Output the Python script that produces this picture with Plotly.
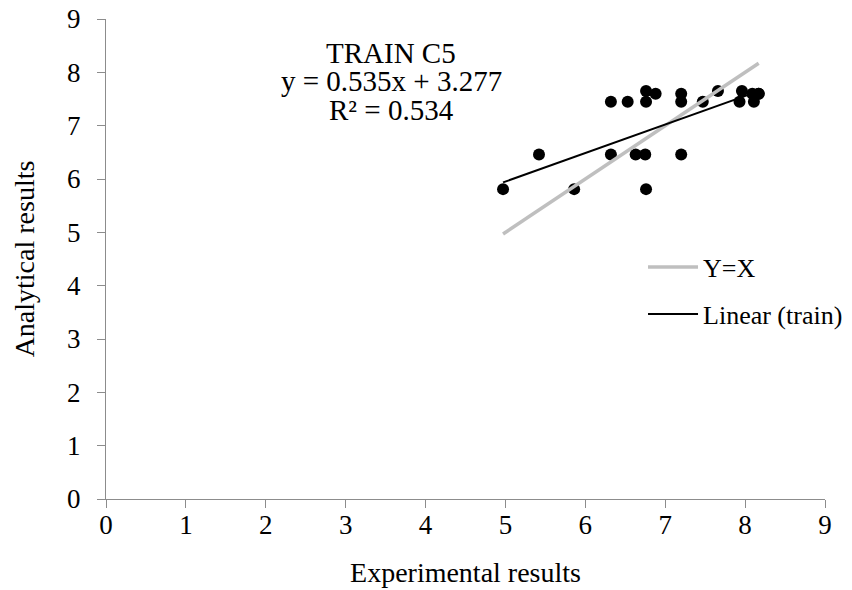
import plotly.graph_objects as go

# Data
exp_x = [4.97, 5.42, 5.86, 6.32, 6.32, 6.53, 6.63, 6.75, 6.76, 6.76, 6.76, 6.88,
         7.20, 7.20, 7.20, 7.47, 7.66, 7.93, 7.96, 8.09, 8.11, 8.17, 8.17]
ana_y = [5.81, 6.46, 5.81, 7.45, 6.46, 7.45, 6.46, 6.46, 7.45, 7.65, 5.81, 7.60,
         7.60, 7.45, 6.46, 7.45, 7.65, 7.45, 7.65, 7.60, 7.45, 7.60, 7.60]
slope = 0.535
intercept = 3.277
r2 = 0.534
x_ticks = list(range(0, 10))
y_ticks = list(range(0, 10))
label_lines = ["TRAIN C5", f"y = {slope}x + {intercept}", f"R² = {r2}"]
label_y = [8.37, 7.83, 7.29]

xmin, xmax = min(exp_x), max(exp_x)
font = "Liberation Serif"

fig = go.Figure()
fig.add_trace(go.Scatter(x=exp_x, y=ana_y, mode="markers",
                         marker=dict(color="black", size=12),
                         showlegend=False, name="train"))
fig.add_trace(go.Scatter(x=[xmin, xmax], y=[xmin, xmax], mode="lines",
                         line=dict(color="#BFBFBF", width=3.5), name="Y=X",
                         legendgroup="a"))
fig.add_trace(go.Scatter(x=[xmin, xmax], y=[slope * xmin + intercept, slope * xmax + intercept],
                         mode="lines", line=dict(color="black", width=2),
                         name="Linear (train)", legendgroup="b"))

for txt, yy in zip(label_lines, label_y):
    fig.add_annotation(x=3.57, y=yy, xref="x", yref="y", showarrow=False, text=txt,
                       font=dict(family=font, size=29, color="black"), align="center")

axis_common = dict(showgrid=False, zeroline=False, showline=True, linecolor="#8C8C8C",
                   linewidth=1, ticks="outside", ticklen=8, tickcolor="#8C8C8C",
                   automargin=False, range=[0, 9], ticklabeloverflow="allow",
                   tickfont=dict(family=font, size=27, color="black"))
fig.update_xaxes(tickvals=x_ticks, ticklabelstandoff=-6, title=dict(text="Experimental results",
                 font=dict(family=font, size=28, color="black"), standoff=22), **axis_common)
fig.update_yaxes(tickvals=y_ticks, ticklabelstandoff=11, title=dict(text="Analytical results",
                 font=dict(family=font, size=28, color="black"), standoff=24), **axis_common)

fig.update_layout(width=844, height=582, plot_bgcolor="white", paper_bgcolor="white",
                  font=dict(family=font),
                  margin=dict(l=98, r=27, t=11, b=91, autoexpand=False),
                  legend=dict(x=0.7469, y=0.434, xanchor="left", yanchor="middle",
                              font=dict(family=font, size=26, color="black"),
                              tracegroupgap=10, traceorder="grouped",
                              bgcolor="rgba(0,0,0,0)", itemwidth=50))
fig.write_html("out.html")
